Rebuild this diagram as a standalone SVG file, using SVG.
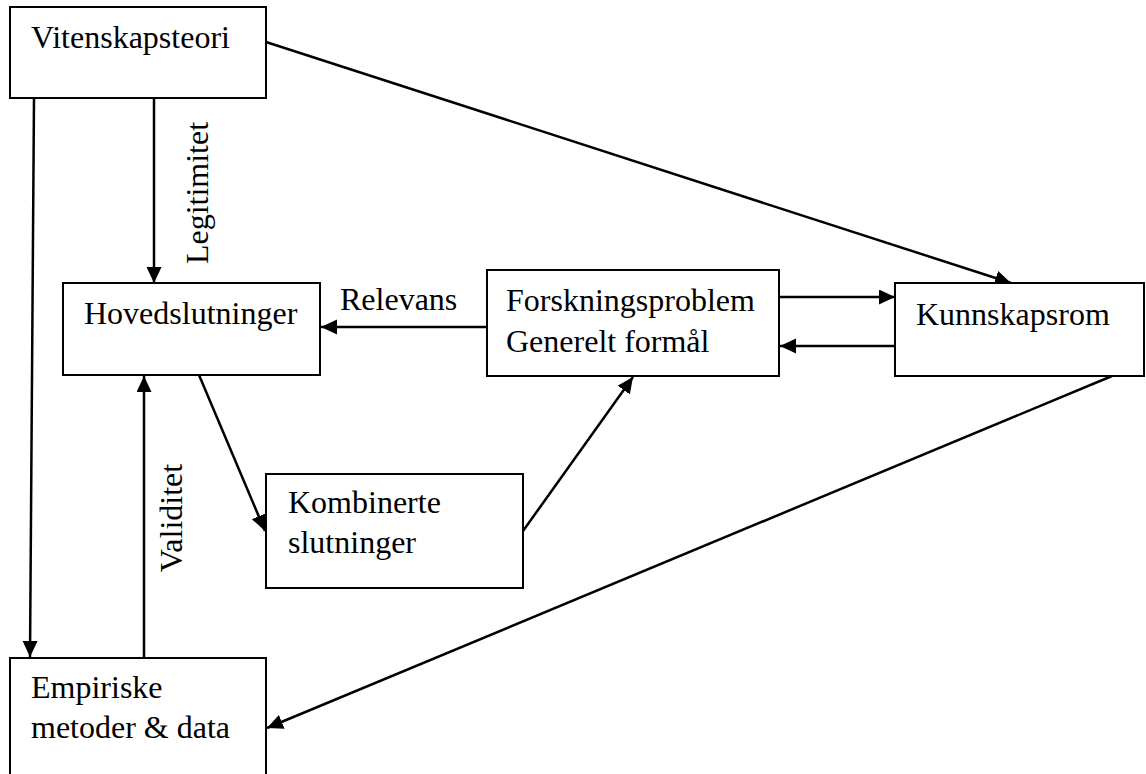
<svg xmlns="http://www.w3.org/2000/svg" width="1146" height="774" viewBox="0 0 1146 774">
<defs>
<marker id="ah" markerUnits="userSpaceOnUse" markerWidth="18" markerHeight="16" refX="16" refY="7.5" orient="auto">
<path d="M0,0 L16,7.5 L0,15 z" fill="#000"/>
</marker>
<style>
.box{fill:#fff;stroke:#000;stroke-width:2}
.t{font-family:'Liberation Serif','Times New Roman',serif;font-size:32px;fill:#000}
.c{stroke:#000;stroke-width:2.5;fill:none}
.a{marker-end:url(#ah)}
</style>
</defs>
<rect width="1146" height="774" fill="#fff"/>
<g id="connectors">
<line class="c a" x1="34" y1="98" x2="30" y2="657"/>
<line class="c a" x1="154" y1="98" x2="154" y2="283"/>
<line class="c a" x1="266" y1="42" x2="1011" y2="283"/>
<line class="c a" x1="487" y1="327" x2="321" y2="327"/>
<line class="c a" x1="779" y1="297" x2="895" y2="297"/>
<line class="c a" x1="895" y1="346" x2="780" y2="346"/>
<line class="c a" x1="199" y1="375" x2="265" y2="531"/>
<line class="c a" x1="523" y1="531" x2="633" y2="377"/>
<line class="c a" x1="1112" y1="376" x2="267" y2="728"/>
<line class="c a" x1="144" y1="657" x2="144" y2="376"/>
<text class="t" font-family="Liberation Serif, serif" transform="translate(208,193) rotate(-90)" text-anchor="middle">Legitimitet</text>
<text class="t" font-family="Liberation Serif, serif" x="340" y="310">Relevans</text>
<text class="t" font-family="Liberation Serif, serif" transform="translate(182,518) rotate(-90)" text-anchor="middle">Validitet</text>
</g>
<g id="vitenskapsteori" font-family="Liberation Serif, serif">
<rect class="box" x="10" y="7" width="256" height="91"/>
<text class="t" x="31" y="48">Vitenskapsteori</text>
</g>
<g id="hovedslutninger">
<rect class="box" x="63" y="283" width="257" height="92"/>
<text class="t" x="84" y="324">Hovedslutninger</text>
</g>
<g id="forskningsproblem">
<rect class="box" x="487" y="270" width="292" height="106"/>
<text class="t" x="506" y="311">Forskningsproblem</text>
<text class="t" x="506" y="352">Generelt formål</text>
</g>
<g id="kunnskapsrom">
<rect class="box" x="895" y="283" width="249" height="93"/>
<text class="t" x="916" y="325">Kunnskapsrom</text>
</g>
<g id="kombinerte">
<rect class="box" x="266" y="474" width="257" height="114"/>
<text class="t" x="288" y="513">Kombinerte</text>
<text class="t" x="288" y="553">slutninger</text>
</g>
<g id="empiriske">
<rect class="box" x="10" y="658" width="256" height="130"/>
<text class="t" x="31" y="698">Empiriske</text>
<text class="t" x="31" y="738">metoder &amp; data</text>
</g>
</svg>
